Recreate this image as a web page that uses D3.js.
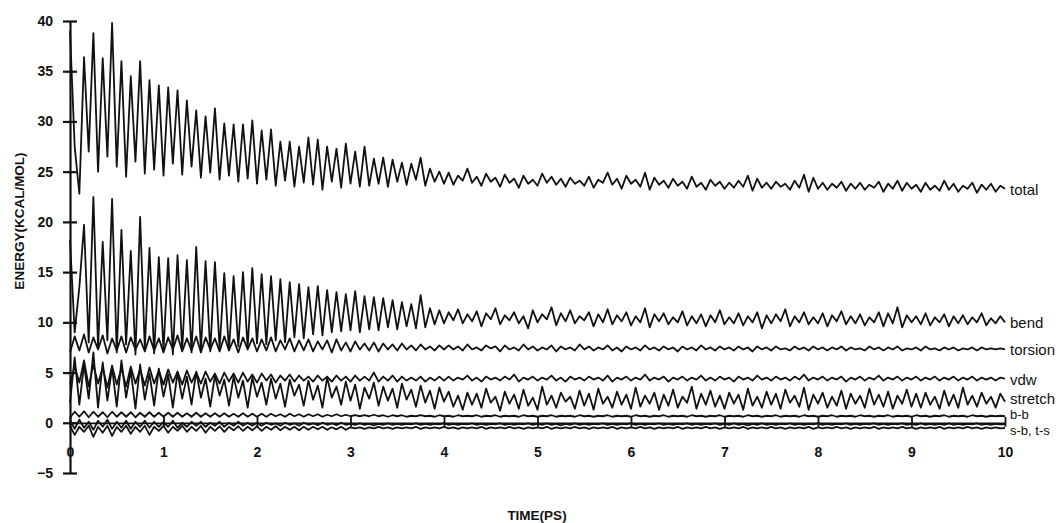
<!DOCTYPE html>
<html>
<head>
<meta charset="utf-8">
<script src="https://cdn.jsdelivr.net/npm/d3@7"></script>
<style>
  body { margin: 0; background: #fff; }
  svg { display: block; }
</style>
</head>
<body>
<div id="chart"></div>
<script>
// energies in kcal/mol, one value every timeStep ps
var timeStep = 0.05;

var totalEnergy = [
  39.0, 27.5, 22.8, 36.4, 27.0, 38.8, 25.0, 36.3, 26.5, 39.8,
  25.5, 36.0, 24.5, 34.5, 26.0, 36.0, 24.8, 34.1, 25.2, 33.6,
  24.6, 33.4, 25.8, 33.1, 24.7, 32.1, 25.5, 31.1, 24.4, 30.5,
  24.9, 31.3, 24.2, 29.8, 24.6, 29.7, 24.0, 29.7, 24.3, 30.1,
  23.8, 29.1, 24.2, 29.2, 23.6, 28.0, 24.1, 28.0, 23.5, 27.5,
  23.9, 28.4, 23.7, 28.2, 23.2, 27.5, 24.0, 27.3, 23.4, 27.8,
  23.8, 27.0, 23.5, 27.5, 23.6, 26.3, 23.8, 26.4, 23.5, 26.2,
  24.0, 25.9, 23.7, 25.8, 24.2, 26.4, 23.6, 25.3, 24.0, 25.0,
  23.8, 24.9, 23.7, 24.6, 24.1, 25.3, 23.9, 24.5, 23.6, 24.8,
  24.0, 24.4, 23.5, 24.7, 23.9, 24.3, 23.4, 24.6, 23.8, 24.2,
  23.6, 24.8, 23.9, 24.5, 23.7, 24.3, 23.5, 24.4, 23.8, 24.1,
  23.6, 24.5, 23.4, 24.2, 23.9, 24.9, 23.7, 24.3, 23.3, 24.6,
  23.8, 24.2, 23.5, 24.9, 23.2, 24.4, 23.7, 24.1, 23.4, 24.3,
  23.6, 24.0, 23.3, 24.5, 23.5, 23.9, 23.2, 24.2, 23.6, 24.0,
  23.3, 23.9, 23.4, 24.1, 23.5, 24.6, 23.1, 24.3, 23.4, 23.9,
  23.3, 24.0, 23.5, 23.8, 23.2, 24.1, 23.4, 24.7, 23.0, 24.4,
  23.3, 23.9, 23.2, 23.8, 23.4, 24.0, 23.1, 23.8, 23.3, 23.9,
  23.2, 23.7, 23.4, 24.0, 23.0, 23.8, 23.3, 24.1, 23.1, 23.9,
  23.3, 23.7, 23.0, 23.9, 23.2, 23.6, 23.1, 24.1, 23.2, 23.8,
  23.0, 23.6, 23.3, 23.9, 22.9, 23.7, 23.2, 23.8, 23.0, 23.6,
  23.3
];

var bendEnergy = [
  18.2, 9.0, 13.5, 19.7, 8.0, 22.5, 7.5, 18.0, 8.2, 22.3,
  7.0, 19.2, 7.8, 17.1, 6.8, 20.5, 7.4, 17.4, 6.9, 16.5,
  7.2, 16.4, 6.8, 16.7, 7.3, 16.2, 7.0, 17.5, 7.2, 16.1,
  7.1, 16.0, 7.4, 14.9, 7.2, 14.6, 7.6, 15.0, 7.5, 15.4,
  7.9, 14.8, 7.8, 14.6, 8.2, 14.3, 8.0, 14.0, 8.5, 13.8,
  8.4, 13.5, 8.8, 13.6, 8.7, 13.2, 9.0, 13.0, 9.1, 12.8,
  9.2, 13.1, 9.0, 12.6, 9.3, 12.5, 9.2, 12.4, 9.5, 12.2,
  9.3, 12.0, 9.6, 11.8, 9.4, 12.7, 9.5, 11.4, 9.8, 11.2,
  9.9, 11.0, 10.2, 11.3, 9.9, 10.8, 10.1, 11.1, 9.6, 10.9,
  10.3, 11.4, 9.8, 10.7, 10.2, 11.0, 9.9, 10.6, 9.4, 11.2,
  10.0, 10.8, 10.3, 11.5, 9.7, 10.9, 10.1, 11.2, 9.9, 10.6,
  10.2, 11.0, 9.6, 10.8, 10.0, 11.3, 9.8, 10.7, 10.1, 11.0,
  9.7, 10.6, 10.0, 11.4, 9.5, 10.8, 10.1, 10.9, 9.8, 10.5,
  10.0, 11.1, 9.7, 10.6, 9.9, 10.8, 9.6, 10.7, 10.0, 11.2,
  9.8, 10.5, 9.9, 10.9, 9.7, 10.6, 10.0, 11.0, 9.4, 10.7,
  9.9, 10.8, 10.1, 11.3, 9.6, 10.6, 10.0, 11.0, 9.8, 10.5,
  9.9, 10.9, 9.6, 10.7, 10.1, 11.1, 9.8, 10.6, 9.9, 10.8,
  9.7, 10.5, 10.0, 11.0, 9.6, 10.9, 9.9, 11.5, 9.5, 10.7,
  10.0, 10.6, 9.8, 10.9, 9.7, 10.5, 10.0, 10.8, 9.6, 10.6,
  9.9, 10.7, 9.8, 10.5, 10.0, 10.9, 9.7, 10.4, 9.9, 10.6,
  10.0
];

var torsionEnergy = [
  7.0, 8.6, 7.2, 8.8, 7.0, 8.5, 7.3, 8.7, 6.9, 8.4,
  7.2, 8.6, 7.0, 8.5, 7.3, 8.3, 7.1, 8.6, 7.2, 8.4,
  7.0, 8.5, 7.3, 8.7, 7.1, 8.4, 7.2, 8.6, 7.0, 8.5,
  7.3, 8.4, 7.1, 8.6, 7.2, 8.3, 7.0, 8.5, 7.3, 8.4,
  7.1, 8.3, 7.2, 8.5, 7.1, 8.2, 7.3, 8.4, 7.1, 8.2,
  7.2, 8.3, 7.1, 8.1, 7.3, 8.2, 7.0, 8.3, 7.2, 8.0,
  7.1, 8.1, 7.3, 7.9, 7.2, 8.0, 7.1, 7.9, 7.3, 7.8,
  7.2, 7.9, 7.3, 7.7, 7.2, 7.8, 7.3, 7.6, 7.2, 7.7,
  7.3, 7.7, 7.3, 7.6, 7.2, 7.8, 7.3, 7.5, 7.2, 7.7,
  7.4, 7.6, 7.1, 7.7, 7.3, 7.5, 7.2, 7.8, 7.3, 7.6,
  7.2, 7.5, 7.3, 7.7, 7.1, 7.6, 7.3, 7.5, 7.2, 7.8,
  7.3, 7.6, 7.2, 7.5, 7.3, 7.7, 7.2, 7.5, 7.1, 7.6,
  7.3, 7.5, 7.2, 7.7, 7.3, 7.5, 7.2, 7.6, 7.3, 7.5,
  7.1, 7.6, 7.3, 7.5, 7.2, 7.7, 7.3, 7.5, 7.2, 7.6,
  7.3, 7.5, 7.2, 7.6, 7.3, 7.5, 7.1, 7.6, 7.3, 7.5,
  7.2, 7.6, 7.3, 7.4, 7.2, 7.6, 7.3, 7.5, 7.2, 7.6,
  7.3, 7.5, 7.2, 7.5, 7.3, 7.6, 7.2, 7.5, 7.3, 7.4,
  7.2, 7.6, 7.3, 7.5, 7.2, 7.5, 7.3, 7.6, 7.2, 7.4,
  7.3, 7.5, 7.2, 7.6, 7.3, 7.4, 7.2, 7.5, 7.3, 7.5,
  7.2, 7.4, 7.3, 7.5, 7.2, 7.5, 7.3, 7.4, 7.3, 7.4,
  7.3
];

var vdwEnergy = [
  3.8, 5.6, 4.0, 6.2, 3.6, 5.8, 3.9, 5.5, 3.5, 5.7,
  3.8, 5.4, 3.6, 5.6, 3.9, 5.3, 3.7, 5.5, 3.9, 5.2,
  3.8, 5.3, 4.0, 5.1, 3.8, 5.2, 4.0, 5.0, 3.9, 5.1,
  4.1, 4.9, 3.9, 5.0, 4.1, 4.9, 4.0, 5.0, 4.1, 4.8,
  4.0, 4.9, 4.2, 4.8, 4.0, 4.7, 4.2, 4.8, 4.1, 4.7,
  4.2, 4.6, 4.1, 4.7, 4.2, 4.6, 4.1, 4.7, 4.2, 4.6,
  4.1, 4.7, 4.2, 4.6, 4.2, 5.0, 4.1, 4.6, 4.2, 4.7,
  4.1, 4.6, 4.2, 4.5, 4.2, 4.6, 4.1, 4.5, 4.2, 4.6,
  4.2, 4.6, 4.2, 4.5, 4.3, 4.7, 4.2, 4.5, 4.1, 4.6,
  4.3, 4.5, 4.2, 4.6, 4.3, 4.8, 4.1, 4.5, 4.3, 4.6,
  4.2, 4.5, 4.3, 4.7, 4.2, 4.5, 4.1, 4.6, 4.3, 4.5,
  4.2, 4.6, 4.3, 4.5, 4.2, 4.7, 4.1, 4.5, 4.3, 4.6,
  4.2, 4.5, 4.3, 4.8, 4.2, 4.5, 4.3, 4.6, 4.1, 4.5,
  4.3, 4.6, 4.2, 4.5, 4.3, 4.7, 4.2, 4.5, 4.2, 4.6,
  4.3, 4.5, 4.1, 4.6, 4.3, 4.5, 4.2, 4.7, 4.3, 4.5,
  4.2, 4.6, 4.3, 4.5, 4.2, 4.6, 4.3, 4.8, 4.2, 4.5,
  4.3, 4.6, 4.2, 4.5, 4.3, 4.6, 4.1, 4.5, 4.3, 4.6,
  4.2, 4.5, 4.3, 4.7, 4.2, 4.5, 4.3, 4.6, 4.2, 4.5,
  4.3, 4.6, 4.2, 4.5, 4.3, 4.6, 4.2, 4.5, 4.3, 4.6,
  4.2, 4.5, 4.3, 4.6, 4.2, 4.5, 4.3, 4.5, 4.2, 4.5,
  4.4
];

var stretchEnergy = [
  2.0, 6.5, 1.8, 5.8, 2.4, 7.0, 1.5, 6.0, 2.2, 5.5,
  1.6, 6.2, 2.5, 5.2, 1.4, 5.8, 2.3, 4.9, 1.7, 5.4,
  2.6, 4.8, 1.5, 5.0, 2.4, 4.6, 1.8, 5.1, 2.5, 4.4,
  1.6, 4.7, 2.7, 4.3, 1.7, 4.6, 2.5, 4.2, 1.5, 4.5,
  2.6, 4.0, 1.8, 4.4, 2.4, 3.9, 1.6, 4.3, 2.7, 3.8,
  1.7, 4.2, 2.3, 3.7, 1.5, 4.5, 2.5, 3.6, 1.8, 4.1,
  2.2, 3.8, 1.4, 3.5, 2.4, 4.0, 1.7, 3.6, 2.2, 3.4,
  1.5, 3.9, 2.3, 3.3, 1.6, 3.7, 2.0, 3.2, 1.4, 3.5,
  2.1, 3.1, 1.6, 2.7, 1.3, 3.0, 1.8, 2.9, 1.5, 3.4,
  2.0, 2.6, 1.2, 3.1, 1.9, 2.8, 1.4, 3.3, 1.7, 2.5,
  1.3, 3.6, 1.8, 2.7, 1.5, 3.0, 2.1, 2.6, 1.4, 3.2,
  1.7, 2.9, 1.3, 3.4, 1.9, 2.6, 1.5, 3.1, 1.8, 2.8,
  1.4, 3.5, 1.6, 2.7, 1.9, 3.0, 1.3, 2.8, 1.7, 3.3,
  1.5, 2.6, 2.0, 3.6, 1.4, 2.9, 1.8, 3.2, 1.6, 2.7,
  1.4, 3.0, 1.9, 2.8, 1.3, 3.4, 1.7, 2.6, 1.5, 3.1,
  1.8, 2.9, 1.4, 3.3, 2.0, 2.7, 1.6, 3.5, 1.3, 2.8,
  1.9, 3.0, 1.5, 2.6, 1.7, 3.2, 1.4, 2.9, 1.9, 2.7,
  1.5, 3.4, 1.8, 2.8, 1.6, 3.1, 1.4, 2.7, 1.9, 3.3,
  1.6, 2.9, 1.5, 3.0, 1.8, 2.6, 1.4, 3.2, 1.7, 2.8,
  1.5, 3.5, 1.8, 2.7, 1.6, 3.0, 1.9, 2.6, 1.5, 2.9,
  2.1
];

var bbEnergy = [
  0.5, 1.1, 0.6, 1.15, 0.55, 1.1, 0.6, 1.05, 0.55, 1.1,
  0.6, 1.05, 0.6, 1.05, 0.55, 1.0, 0.6, 1.05, 0.6, 1.0,
  0.6, 1.0, 0.6, 1.0, 0.6, 0.95, 0.6, 1.0, 0.6, 0.95,
  0.6, 0.95, 0.6, 0.95, 0.6, 0.9, 0.6, 0.95, 0.6, 0.9,
  0.6, 0.9, 0.6, 0.9, 0.65, 0.85, 0.6, 0.9, 0.65, 0.85,
  0.6, 0.85, 0.65, 0.85, 0.6, 0.8, 0.65, 0.85, 0.65, 0.8,
  0.65, 0.75, 0.65, 0.75, 0.65, 0.8, 0.65, 0.75, 0.6, 0.75,
  0.65, 0.75, 0.6, 0.7, 0.65, 0.75, 0.65, 0.7, 0.6, 0.75,
  0.65, 0.7, 0.6, 0.75, 0.65, 0.7, 0.65, 0.75, 0.6, 0.7,
  0.65, 0.75, 0.6, 0.7, 0.65, 0.7, 0.6, 0.75, 0.65, 0.7,
  0.6, 0.7, 0.65, 0.75, 0.6, 0.7, 0.65, 0.7, 0.6, 0.75,
  0.65, 0.7, 0.6, 0.7, 0.65, 0.75, 0.6, 0.7, 0.65, 0.7,
  0.6, 0.75, 0.65, 0.7, 0.6, 0.7, 0.65, 0.75, 0.6, 0.7,
  0.65, 0.7, 0.6, 0.75, 0.65, 0.7, 0.6, 0.7, 0.65, 0.75,
  0.6, 0.7, 0.65, 0.7, 0.6, 0.75, 0.65, 0.7, 0.6, 0.7,
  0.65, 0.75, 0.6, 0.7, 0.65, 0.7, 0.6, 0.75, 0.65, 0.7,
  0.6, 0.7, 0.65, 0.75, 0.6, 0.7, 0.65, 0.7, 0.6, 0.75,
  0.65, 0.7, 0.6, 0.7, 0.65, 0.75, 0.6, 0.7, 0.65, 0.7,
  0.6, 0.75, 0.65, 0.7, 0.6, 0.7, 0.65, 0.75, 0.6, 0.7,
  0.65, 0.7, 0.6, 0.75, 0.65, 0.7, 0.6, 0.7, 0.65, 0.7,
  0.65
];

var sbEnergy = [
  0.2, -0.6, 0.3, -0.5, 0.1, -0.7, 0.2, -0.4, 0.3, -0.6,
  0.1, -0.5, 0.2, -0.6, 0.1, -0.4, 0.2, -0.5, 0.1, -0.4,
  0.1, -0.4, 0.2, -0.5, 0.0, -0.4, 0.1, -0.3, 0.1, -0.4,
  0.0, -0.3, 0.1, -0.4, 0.0, -0.3, 0.1, -0.3, 0.0, -0.3,
  0.0, -0.3, 0.0, -0.2, -0.05, -0.3, 0.0, -0.2, -0.05, -0.3,
  0.0, -0.2, -0.05, -0.25, 0.0, -0.2, -0.05, -0.25, 0.0, -0.2,
  -0.1, -0.2, -0.05, -0.2, -0.1, -0.25, -0.1, -0.2, -0.05, -0.2,
  -0.1, -0.2, -0.1, -0.15, -0.05, -0.2, -0.1, -0.2, -0.1, -0.15,
  -0.05, -0.2, -0.1, -0.2, -0.1, -0.15, -0.05, -0.2, -0.1, -0.2,
  -0.1, -0.15, -0.05, -0.2, -0.1, -0.2, -0.1, -0.15, -0.05, -0.2,
  -0.1, -0.2, -0.05, -0.2, -0.1, -0.25, -0.1, -0.2, -0.05, -0.2,
  -0.1, -0.2, -0.1, -0.15, -0.05, -0.2, -0.1, -0.2, -0.1, -0.15,
  -0.05, -0.2, -0.1, -0.2, -0.1, -0.15, -0.05, -0.2, -0.1, -0.2,
  -0.1, -0.15, -0.05, -0.2, -0.1, -0.2, -0.1, -0.15, -0.05, -0.2,
  -0.1, -0.2, -0.05, -0.2, -0.1, -0.25, -0.1, -0.2, -0.05, -0.2,
  -0.1, -0.2, -0.1, -0.15, -0.05, -0.2, -0.1, -0.2, -0.1, -0.15,
  -0.05, -0.2, -0.1, -0.2, -0.1, -0.15, -0.05, -0.2, -0.1, -0.2,
  -0.1, -0.15, -0.05, -0.2, -0.1, -0.2, -0.1, -0.15, -0.05, -0.2,
  -0.1, -0.2, -0.05, -0.2, -0.1, -0.2, -0.1, -0.2, -0.05, -0.2,
  -0.1, -0.2, -0.1, -0.15, -0.05, -0.2, -0.1, -0.2, -0.1, -0.15,
  -0.15
];

var tsEnergy = [
  -0.3, -1.2, -0.4, -0.9, -0.3, -1.4, -0.4, -1.0, -0.3, -1.3,
  -0.4, -0.9, -0.3, -1.1, -0.4, -0.9, -0.3, -1.2, -0.4, -0.8,
  -0.3, -1.0, -0.4, -0.8, -0.3, -0.9, -0.4, -0.8, -0.3, -1.0,
  -0.4, -0.8, -0.35, -0.9, -0.4, -0.75, -0.35, -0.8, -0.4, -0.75,
  -0.35, -0.8, -0.4, -0.7, -0.35, -0.75, -0.4, -0.7, -0.4, -0.75,
  -0.4, -0.7, -0.4, -0.65, -0.4, -0.7, -0.45, -0.65, -0.4, -0.7,
  -0.45, -0.55, -0.45, -0.6, -0.45, -0.55, -0.4, -0.55, -0.45, -0.6,
  -0.45, -0.55, -0.45, -0.55, -0.4, -0.6, -0.45, -0.55, -0.45, -0.55,
  -0.4, -0.55, -0.45, -0.6, -0.45, -0.55, -0.45, -0.55, -0.4, -0.6,
  -0.45, -0.55, -0.45, -0.55, -0.4, -0.55, -0.45, -0.6, -0.45, -0.55,
  -0.45, -0.55, -0.4, -0.6, -0.45, -0.55, -0.45, -0.55, -0.4, -0.55,
  -0.45, -0.6, -0.45, -0.55, -0.45, -0.55, -0.4, -0.6, -0.45, -0.55,
  -0.45, -0.55, -0.4, -0.55, -0.45, -0.6, -0.45, -0.55, -0.45, -0.55,
  -0.4, -0.6, -0.45, -0.55, -0.45, -0.55, -0.4, -0.55, -0.45, -0.6,
  -0.45, -0.55, -0.45, -0.55, -0.4, -0.6, -0.45, -0.55, -0.45, -0.55,
  -0.4, -0.55, -0.45, -0.6, -0.45, -0.55, -0.45, -0.55, -0.4, -0.6,
  -0.45, -0.55, -0.45, -0.55, -0.4, -0.55, -0.45, -0.6, -0.45, -0.55,
  -0.45, -0.55, -0.4, -0.6, -0.45, -0.55, -0.45, -0.55, -0.4, -0.55,
  -0.45, -0.6, -0.45, -0.55, -0.45, -0.55, -0.4, -0.6, -0.45, -0.55,
  -0.45, -0.55, -0.4, -0.55, -0.45, -0.6, -0.45, -0.55, -0.45, -0.55,
  -0.5
];

var xTicks = [0, 1, 2, 3, 4, 5, 6, 7, 8, 9, 10];
var yTicks = [-5, 0, 5, 10, 15, 20, 25, 30, 35, 40];

// series drawn, and the text put at the right end of each group
var seriesList = [totalEnergy, bendEnergy, torsionEnergy, vdwEnergy, stretchEnergy, bbEnergy, sbEnergy, tsEnergy];
var endLabels = ["total", "bend", "torsion", "vdw", "stretch", "b-b", "s-b, t-s"];
var endLabelSeries = [totalEnergy, bendEnergy, torsionEnergy, vdwEnergy, stretchEnergy, bbEnergy, tsEnergy];

var width = 1059, height = 523;
var font = "'Liberation Sans', Arial, Helvetica, sans-serif";

var svg = d3.select("#chart").append("svg")
    .attr("width", width)
    .attr("height", height);

var x = d3.scaleLinear().domain([0, 10]).range([70, 1005]);
var y = d3.scaleLinear().domain([-5, 40]).range([473, 21]);

var line = d3.line()
    .x(function(d, i) { return x(i * timeStep); })
    .y(function(d) { return y(d); });

// x axis sits on the zero line
var xAxis = svg.append("g")
    .attr("transform", "translate(0," + y(0) + ")")
    .call(d3.axisBottom(x).tickValues(xTicks).tickFormat(d3.format("d"))
        .tickSizeInner(4).tickSizeOuter(0).tickPadding(20));
xAxis.select(".domain").attr("stroke", "#111").attr("stroke-width", 1.8);
xAxis.selectAll(".tick line").attr("y1", -6).attr("stroke", "#111").attr("stroke-width", 1.8);
xAxis.selectAll(".tick text")
    .attr("font-family", font).attr("font-size", 14).attr("font-weight", "bold").attr("fill", "#111");

// series
svg.append("g").selectAll("path")
    .data(seriesList)
    .enter().append("path")
    .attr("d", line)
    .attr("fill", "none")
    .attr("stroke", "#111")
    .attr("stroke-width", 1.8)
    .attr("stroke-linejoin", "round");

// y axis
var yAxis = svg.append("g")
    .attr("transform", "translate(" + x(0) + ",0)")
    .call(d3.axisLeft(y).tickValues(yTicks).tickSizeInner(7).tickSizeOuter(0).tickPadding(10));
yAxis.select(".domain").attr("stroke", "#111").attr("stroke-width", 2.2);
yAxis.selectAll(".tick line").attr("x2", -7).attr("x1", 7).attr("stroke", "#111").attr("stroke-width", 2.2);
yAxis.selectAll(".tick text")
    .attr("font-family", font).attr("font-size", 14).attr("font-weight", "bold").attr("fill", "#111");

// labels at the end of the lines; the bottom three are packed tightly
var labelShift = { "stretch": 2, "b-b": 3, "s-b, t-s": 7 };
var labelSize = { "b-b": 13, "s-b, t-s": 13 };
svg.append("g").selectAll("text")
    .data(endLabels)
    .enter().append("text")
    .attr("x", x(10) + 5)
    .attr("y", function(d, i) {
        var s = endLabelSeries[i];
        return y(s[s.length - 1]) + (labelShift[d] !== undefined ? labelShift[d] : 6);
    })
    .attr("font-family", font)
    .attr("font-size", function(d) { return labelSize[d] || 15; })
    .attr("fill", "#111")
    .text(function(d) { return d; });

// axis titles
svg.append("text")
    .attr("transform", "translate(24,221) rotate(-90)")
    .attr("text-anchor", "middle")
    .attr("font-family", font).attr("font-size", 13.5).attr("font-weight", "bold").attr("fill", "#111")
    .text("ENERGY(KCAL/MOL)");

svg.append("text")
    .attr("x", 537).attr("y", 520)
    .attr("text-anchor", "middle")
    .attr("font-family", font).attr("font-size", 13.5).attr("font-weight", "bold").attr("fill", "#111")
    .text("TIME(PS)");
</script>
</body>
</html>
